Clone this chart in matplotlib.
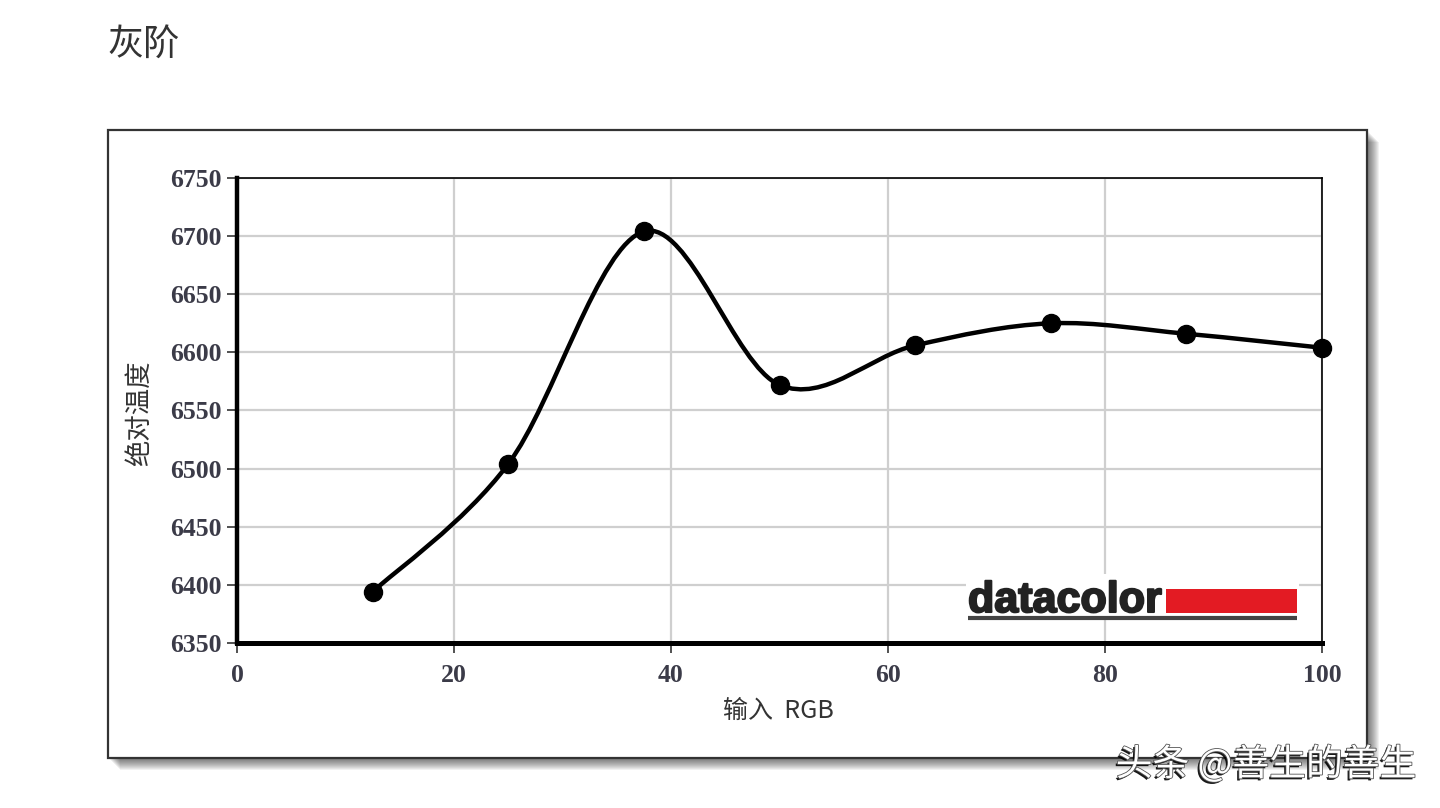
import numpy as np
import matplotlib
matplotlib.use("Agg")
from matplotlib import pyplot as plt
from matplotlib.patches import Rectangle, PathPatch
from matplotlib.path import Path
import matplotlib.patheffects as pe

# data
rgb_input = [12.5, 25, 37.5, 50, 62.5, 75, 87.5, 100]
cct = [6394, 6504, 6704, 6572, 6606, 6625, 6616, 6604]
x_ticks = [0, 20, 40, 60, 80, 100]
y_ticks = [6350, 6400, 6450, 6500, 6550, 6600, 6650, 6700, 6750]

title = "灰阶"
y_title = "绝对温度"
x_title = "输入  RGB"
watermark = "头条 @善生的善生"

W, H = 1440, 808
fig = plt.figure(figsize=(W / 100, H / 100), dpi=100)
fig.patch.set_facecolor("white")


def fx(px):
    return px / W


def fy(py):
    return 1 - py / H


# outer frame with soft shadow
x0, x1, y0, y1 = 108, 1367, 130, 758
for k in range(1, 13):
    fig.patches.append(Rectangle((fx(x0 + k), fy(y1 + k)), fx(x1 - x0), fy(y0) - fy(y1),
                                 transform=fig.transFigure, facecolor="black",
                                 edgecolor="none", alpha=0.055, zorder=-20))
fig.patches.append(Rectangle((fx(x0), fy(y1)), fx(x1 - x0), fy(y0) - fy(y1),
                             transform=fig.transFigure, facecolor="white",
                             edgecolor="#333333", linewidth=1.6, zorder=-10))

ax_l, ax_r, ax_t, ax_b = 237, 1322, 178, 643
ax = fig.add_axes([fx(ax_l), fy(ax_b), fx(ax_r - ax_l), fy(ax_t) - fy(ax_b)])
ax.set_xlim(0, 100)
ax.set_ylim(6350, 6750)
ax.set_xticks(x_ticks)
ax.set_yticks(y_ticks)
ax.grid(True, color="#cfcfcf", linewidth=1.6)
ax.set_axisbelow(True)

for side, lw in [("left", 3.2), ("bottom", 3.6), ("top", 1.2), ("right", 1.2)]:
    ax.spines[side].set_linewidth(lw)
    ax.spines[side].set_color("black")

ax.tick_params(axis="both", direction="out", length=7, width=1.2, color="#333333",
               labelcolor="#3b3b48", labelsize=18.5)
ax.tick_params(axis="y", pad=4)
ax.tick_params(axis="x", pad=8)
for lab in ax.get_xticklabels() + ax.get_yticklabels():
    lab.set_fontfamily("Liberation Serif")
    lab.set_fontweight("bold")

# smooth curve through the points (Catmull-Rom as cubic Bezier)
pts = np.column_stack([rgb_input, cct]).astype(float)
ext = np.vstack([pts[0], pts, pts[-1]])
verts = [tuple(pts[0])]
codes = [Path.MOVETO]
for i in range(1, len(ext) - 2):
    p0, p1, p2, p3 = ext[i - 1], ext[i], ext[i + 1], ext[i + 2]
    c1 = p1 + (p2 - p0) / 6
    c2 = p2 - (p3 - p1) / 6
    verts += [tuple(c1), tuple(c2), tuple(p2)]
    codes += [Path.CURVE4] * 3
ax.add_patch(PathPatch(Path(verts, codes), facecolor="none", edgecolor="black",
                       linewidth=3.2, zorder=3, capstyle="round", joinstyle="round"))
ax.plot(rgb_input, cct, "o", color="black", markersize=13, zorder=4, clip_on=False)

# datacolor logo
def axx(px):
    return (px - ax_l) / (ax_r - ax_l)


def axy(py):
    return (ax_b - py) / (ax_b - ax_t)


ax.add_patch(Rectangle((axx(966), axy(619)), axx(1299) - axx(966), axy(574) - axy(619),
                       transform=ax.transAxes, facecolor="white", edgecolor="none", zorder=2))
ax.text(axx(968), axy(612), "datacolor", transform=ax.transAxes, ha="left", va="baseline",
        fontsize=31, fontweight="bold", family="Liberation Sans", color="#222222", zorder=5,
        path_effects=[pe.withStroke(linewidth=1.5, foreground="#222222")])
ax.add_patch(Rectangle((axx(1166), axy(613)), axx(1297) - axx(1166), axy(589) - axy(613),
                       transform=ax.transAxes, facecolor="#e31b23", edgecolor="none", zorder=5))
ax.plot([axx(968), axx(1297)], [axy(618), axy(618)], transform=ax.transAxes,
        color="#444444", linewidth=3, zorder=5, solid_capstyle="butt")

# texts
fig.text(fx(107), fy(45), title, ha="left", va="center", fontsize=26,
         family=["Noto Sans CJK SC", "DejaVu Sans"], color="#333333")
fig.text(fx(140), fy(413), y_title, ha="center", va="center", rotation=90, fontsize=19,
         family=["Noto Sans CJK SC", "DejaVu Sans"], color="#333333")
fig.text(fx(778), fy(711), x_title, ha="center", va="center", fontsize=18,
         family=["Noto Sans CJK SC", "DejaVu Sans"], color="#333333")
fig.text(fx(1416), fy(765), watermark, ha="right", va="center", fontsize=26.5,
         family=["Noto Sans CJK SC", "DejaVu Sans"], color="white", fontweight="medium",
         path_effects=[pe.withSimplePatchShadow(offset=(-1.5, -1.5), shadow_rgbFace="black",
                                                alpha=0.9),
                       pe.withStroke(linewidth=1.2, foreground="#555555")])

fig.savefig("out.png", dpi=100, facecolor="white")
